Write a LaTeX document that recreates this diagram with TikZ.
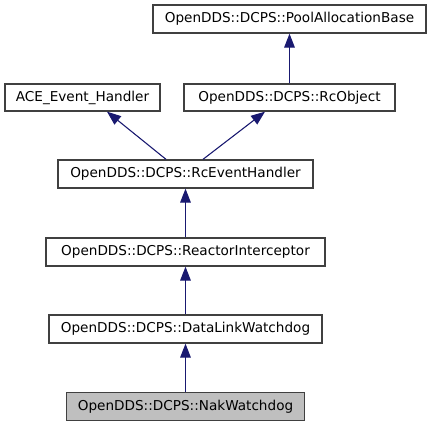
\documentclass[tikz,border=0pt]{standalone}
\usepackage{fontspec}
\setmainfont{DejaVu Sans}
\usetikzlibrary{arrows.meta}
\definecolor{edgeblue}{HTML}{191970}
\definecolor{boxline}{HTML}{404040}
\definecolor{boxfill}{HTML}{BFBFBF}
\begin{document}
\begin{tikzpicture}[x=0.75pt,y=-0.75pt,
  cls/.style={draw=boxline,line width=1pt,fill=white,rectangle,inner sep=0pt,
    font=\fontsize{10.2pt}{12pt}\selectfont,text=black},
  cur/.style={cls,fill=boxfill},
  inh/.style={draw=edgeblue,line width=0.8pt,-{Triangle[length=10.5pt,width=8pt]},fill=edgeblue}]
\useasboundingbox (0,0) rectangle (431,427);
\node[cls,minimum width=273*0.75pt,minimum height=28*0.75pt] (pool) at (289.5,19) {OpenDDS::DCPS::PoolAllocationBase};
\node[cls,minimum width=155*0.75pt,minimum height=27*0.75pt] (ace) at (82.5,97.5) {ACE\_Event\_Handler};
\node[cls,minimum width=211*0.75pt,minimum height=27*0.75pt] (rco) at (289.5,97.5) {OpenDDS::DCPS::RcObject};
\node[cls,minimum width=255*0.75pt,minimum height=28*0.75pt] (rceh) at (185.5,174) {OpenDDS::DCPS::RcEventHandler};
\node[cls,minimum width=279*0.75pt,minimum height=28*0.75pt] (ri) at (185.5,252) {OpenDDS::DCPS::ReactorInterceptor};
\node[cls,minimum width=273*0.75pt,minimum height=28*0.75pt] (dlw) at (185.5,329) {OpenDDS::DCPS::DataLinkWatchdog};
\node[cur,minimum width=238*0.75pt,minimum height=28*0.75pt] (nak) at (185.5,406.5) {OpenDDS::DCPS::NakWatchdog};
\draw[inh] (rco.north) -- (pool.south);
\draw[inh] ([xshift=-19.5*0.75pt]rceh.north) -- ([xshift=24.5*0.75pt]ace.south);
\draw[inh] ([xshift=17.5*0.75pt]rceh.north) -- ([xshift=-24.5*0.75pt]rco.south);
\draw[inh] (ri.north) -- (rceh.south);
\draw[inh] (dlw.north) -- (ri.south);
\draw[inh] (nak.north) -- (dlw.south);
\end{tikzpicture}
\end{document}
